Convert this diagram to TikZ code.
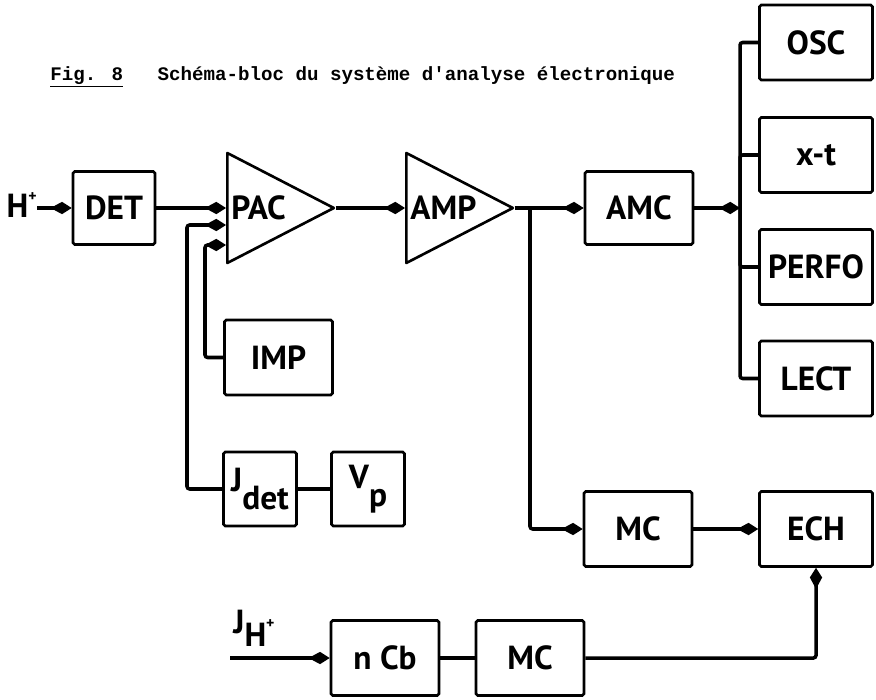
\documentclass[tikz,border=0pt]{standalone}
\usepackage{fontspec}
\setmainfont{PT Sans}
\newfontfamily\capfont{Liberation Mono}
\usetikzlibrary{arrows.meta, positioning, shapes.geometric}

\begin{document}
\begin{tikzpicture}[
  every node/.style={font=\fontsize{19}{19}\selectfont\bfseries},
  box/.style={
    rectangle, rounded corners=1pt,
    minimum width=2.16cm, minimum height=1.5cm,
    inner sep=0pt, align=center, draw, line width=1.5pt
  },
  sbox/.style={box, minimum width=1.46cm, minimum height=1.48cm},
  rbox/.style={box, minimum width=2.26cm},
  amp/.style={
    shape=isosceles triangle, isosceles triangle stretches, isosceles triangle apex angle=90,
    minimum width=2.2cm, minimum height=2.13cm, inner sep=0pt,
    anchor=lower side, draw, line width=1.5pt, line join=round
  },
  lbl/.style={inner sep=0pt},
  wire/.style={line width=2pt, rounded corners=1.5pt},
  arr/.style={wire, -{Kite[length=12pt, width=7pt, inset=6.5pt]}}
]
\useasboundingbox (0,0) rectangle (17.52,-14);

% caption
\node[lbl, anchor=west, font=\capfont\fontsize{10.9}{11}\selectfont\bfseries] (title) at (1.00,-1.54)
  {\underline{Fig. 8}\hspace{1.8em}Schéma-bloc du système d'analyse électronique};

% top row
\node[lbl, anchor=east] (hin) at (0.74,-4.10) {H\raisebox{0.5em}{\small +}};
\node[box, minimum width=1.64cm, minimum height=1.46cm] (det) at (2.28,-4.16) {DET};
\node[amp] (pac) at (4.52,-4.16) {};
\node[amp] (mp) at (8.10,-4.16) {};
\node[lbl, anchor=west] (paclbl) at (4.62,-4.16) {PAC};
\node[lbl, anchor=west] (amplbl) at (8.20,-4.16) {AMP};
\node[box, minimum height=1.46cm] (amc) at (12.78,-4.16) {AMC};

% right column
\node[rbox] (osc)   at (16.32,-0.85) {OSC};
\node[rbox] (xt)    at (16.32,-3.10) {x-t};
\node[rbox] (perfo) at (16.32,-5.34) {PERFO};
\node[rbox] (lect)  at (16.32,-7.57) {LECT};

% below the preamplifier
\node[box] (imp) at (5.57,-7.15) {IMP};
\node[sbox] (jdet) at (5.20,-9.78) {J\raisebox{-0.55em}{det}};
\node[sbox] (vp) at (7.36,-9.78) {V\raisebox{-0.55em}{p}};

% lower chain
\node[box] (mca) at (12.76,-10.58) {MC};
\node[rbox] (ech) at (16.32,-10.58) {ECH};
\node[box] (ncb) at (7.70,-13.16) {n Cb};
\node[box] (mcb) at (10.60,-13.16) {MC};
\node[lbl, anchor=north west] (jh) at (4.66,-12.20) {J\raisebox{-0.38em}{H\raisebox{0.55em}{\small +}}};

\coordinate (pacb) at (4.52,-4.50);
\coordinate (pacc) at (4.52,-4.90);
\coordinate (ampj) at (10.60,-4.16);
\coordinate (bus)  at (14.80,-4.16);
\coordinate (jhin) at (4.60,-13.16);

% signal path
\draw[arr] (hin.east |- det.west) -- (det.west);
\draw[arr] (det.east) -- (pac.lower side);
\draw[arr] (pac.apex) -- (mp.lower side);
\draw[arr] (mp.apex) -- (amc.west);
\draw[arr] (amc.east) -- (bus);

% inputs of PAC
\draw[arr] (jdet.west) -| (3.74,-4.50) -- (pacb);
\draw[arr] (imp.west) -| (4.10,-4.90) -- (pacc);

% recorders
\draw[wire] (bus) |- (osc.west);
\draw[wire] (bus) |- (lect.west);
\draw[wire] (bus) |- (xt.west);
\draw[wire] (bus) |- (perfo.west);

% lower chain
\draw[arr] (ampj) |- (mca.west);
\draw[arr] (mca.east) -- (ech.west);
\draw[wire] (jdet.east) -- (vp.west);
\draw[arr] (jhin) -- (ncb.west);
\draw[wire] (ncb.east) -- (mcb.west);
\draw[arr] (mcb.east) -| (ech.south);

\end{tikzpicture}
\end{document}
